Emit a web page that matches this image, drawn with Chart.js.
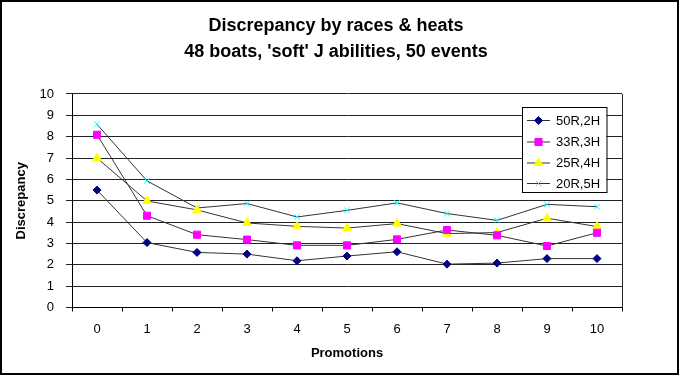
<!DOCTYPE html>
<html>
<head>
<meta charset="utf-8">
<script src="https://cdn.jsdelivr.net/npm/chart.js@4/dist/chart.umd.min.js"></script>
<style>
html,body{margin:0;padding:0;background:#fff;}
#wrap{width:680px;height:376px;}
</style>
</head>
<body>
<div id="wrap"><canvas id="c" width="680" height="376"></canvas></div>
<script>
const categories = ['0','1','2','3','4','5','6','7','8','9','10'];
const seriesNames = ['50R,2H','33R,3H','25R,4H','20R,5H'];
const s50R2H = [5.5, 3.04, 2.58, 2.5, 2.19, 2.41, 2.61, 2.03, 2.08, 2.29, 2.29];
const s33R3H = [8.09, 4.3, 3.41, 3.18, 2.91, 2.91, 3.19, 3.63, 3.38, 2.88, 3.5];
const s25R4H = [7.0, 4.99, 4.57, 3.96, 3.8, 3.72, 3.93, 3.46, 3.51, 4.18, 3.79];
const s20R5H = [8.58, 5.93, 4.66, 4.87, 4.24, 4.55, 4.9, 4.4, 4.08, 4.83, 4.72];
const yTicks = [0,1,2,3,4,5,6,7,8,9,10];

const FONT = "'Liberation Sans', Arial, sans-serif";
const styles = [
  {pointStyle:'rectRot', radius:4, bg:'#000080', bc:'#000080', bw:1},
  {pointStyle:'rect', radius:5, bg:'#FF00FF', bc:'#FF00FF', bw:1},
  {pointStyle:'triangle', radius:5, bg:'#FFFF00', bc:'#FFFF00', bw:1},
  {pointStyle:'crossRot', radius:4, bg:'#00FFFF', bc:'#00FFFF', bw:1}
];
const values = [s50R2H, s33R3H, s25R4H, s20R5H];

const datasets = values.map((v, i) => ({
  label: seriesNames[i],
  data: v,
  borderColor: '#333333',
  borderWidth: 1,
  pointStyle: styles[i].pointStyle,
  pointRadius: styles[i].radius,
  pointBackgroundColor: styles[i].bg,
  pointBorderColor: styles[i].bc,
  pointBorderWidth: styles[i].bw,
  tension: 0,
  fill: false,
  yAxisID: 'y'
}));

function drawMarker(ctx, st, x, y) {
  const r = st.radius;
  ctx.save();
  ctx.fillStyle = st.bg;
  ctx.strokeStyle = st.bc;
  ctx.lineWidth = st.bw;
  ctx.beginPath();
  if (st.pointStyle === 'rectRot') {
    ctx.moveTo(x, y - r); ctx.lineTo(x + r, y); ctx.lineTo(x, y + r); ctx.lineTo(x - r, y); ctx.closePath();
    ctx.fill(); ctx.stroke();
  } else if (st.pointStyle === 'rect') {
    const s = r * Math.SQRT1_2;
    ctx.rect(x - s, y - s, 2 * s, 2 * s);
    ctx.fill(); ctx.stroke();
  } else if (st.pointStyle === 'triangle') {
    for (let k = 0; k < 3; k++) {
      const a = k * 2 * Math.PI / 3;
      const px = x + Math.sin(a) * r, py = y - Math.cos(a) * r;
      if (k === 0) ctx.moveTo(px, py); else ctx.lineTo(px, py);
    }
    ctx.closePath();
    ctx.fill(); ctx.stroke();
  } else if (st.pointStyle === 'crossRot') {
    const d = r * Math.SQRT1_2;
    ctx.moveTo(x - d, y - d); ctx.lineTo(x + d, y + d);
    ctx.moveTo(x - d, y + d); ctx.lineTo(x + d, y - d);
    ctx.stroke();
  }
  ctx.restore();
}

const framePlugin = {
  id: 'frame',
  beforeDatasetsDraw(chart) {
    const {ctx, chartArea: a} = chart;
    ctx.save();
    ctx.strokeStyle = '#222';
    ctx.lineWidth = 1;
    ctx.beginPath();
    ctx.moveTo(Math.round(a.right) + 0.5, a.top);
    ctx.lineTo(Math.round(a.right) + 0.5, a.bottom);
    ctx.stroke();
    ctx.restore();
  },
  afterDatasetsDraw(chart) {
    const ctx = chart.ctx;
    const L = 522, T = 107.5, R = 606.5, B = 192.5;
    ctx.save();
    ctx.fillStyle = '#fff';
    ctx.fillRect(L, T, R - L, B - T);
    ctx.strokeStyle = '#000';
    ctx.lineWidth = 1;
    ctx.strokeRect(L + 0.5, T, R - L, B - T);
    const rows = [120, 141.5, 162.5, 183];
    ctx.font = '13px ' + FONT;
    ctx.textBaseline = 'middle';
    ctx.textAlign = 'left';
    chart.data.datasets.forEach((ds, i) => {
      const y = rows[i];
      ctx.strokeStyle = '#333';
      ctx.lineWidth = 1;
      ctx.beginPath();
      ctx.moveTo(527, y + 0.5);
      ctx.lineTo(550, y + 0.5);
      ctx.stroke();
      drawMarker(ctx, styles[i], 538.5, y + 0.5);
      ctx.fillStyle = '#000';
      ctx.fillText(ds.label, 556, y + 1);
    });
    ctx.restore();
  },
  afterDraw(chart) {
    const ctx = chart.ctx;
    ctx.save();
    ctx.strokeStyle = '#000';
    ctx.lineWidth = 2;
    ctx.strokeRect(1, 1, 677, 373);
    ctx.restore();
  }
};

new Chart(document.getElementById('c'), {
  type: 'line',
  data: { labels: categories, datasets: datasets },
  options: {
    responsive: false,
    animation: false,
    devicePixelRatio: 1,
    layout: { padding: { left: 0, right: 8, top: 0, bottom: 6 } },
    plugins: {
      legend: { display: false },
      tooltip: { enabled: false },
      title: {
        display: true,
        text: ['Discrepancy by races & heats', "48 boats, 'soft' J abilities, 50 events"],
        color: '#000',
        font: { family: FONT, size: 18, weight: 'bold', lineHeight: 1.43 },
        padding: { top: 13, bottom: 29.5 }
      }
    },
    scales: {
      x: {
        type: 'category',
        offset: true,
        grid: { offset: true, drawOnChartArea: false, drawTicks: true, tickLength: 4, color: '#000' },
        border: { display: true, color: '#000', width: 1 },
        ticks: { color: '#000', font: { family: FONT, size: 13 }, padding: 10, maxRotation: 0, autoSkip: false },
        title: { display: true, text: 'Promotions', color: '#000', font: { family: FONT, size: 13, weight: 'bold' }, padding: { top: 0, bottom: 9 } },
        afterFit(scale) { scale.height = 62.5; }
      },
      y: {
        type: 'linear',
        position: 'left',
        min: yTicks[0],
        max: yTicks[yTicks.length - 1],
        afterBuildTicks(scale) { scale.ticks = yTicks.map(v => ({ value: v })); },
        grid: { color: '#222', lineWidth: 1, drawTicks: true, tickLength: 6 },
        border: { display: true, color: '#000', width: 1 },
        ticks: { color: '#000', font: { family: FONT, size: 13 }, padding: 12 },
        title: { display: true, text: 'Discrepancy', color: '#000', font: { family: FONT, size: 13, weight: 'bold' }, padding: { top: 14, bottom: 0 } },
        afterFit(scale) { scale.width = 72; }
      },
      y2: {
        type: 'linear',
        position: 'right',
        display: true,
        grid: { drawOnChartArea: false, drawTicks: false, display: false },
        border: { display: false },
        ticks: { display: false },
        afterFit(scale) { scale.width = 50; }
      }
    }
  },
  plugins: [framePlugin]
});
</script>
</body>
</html>
